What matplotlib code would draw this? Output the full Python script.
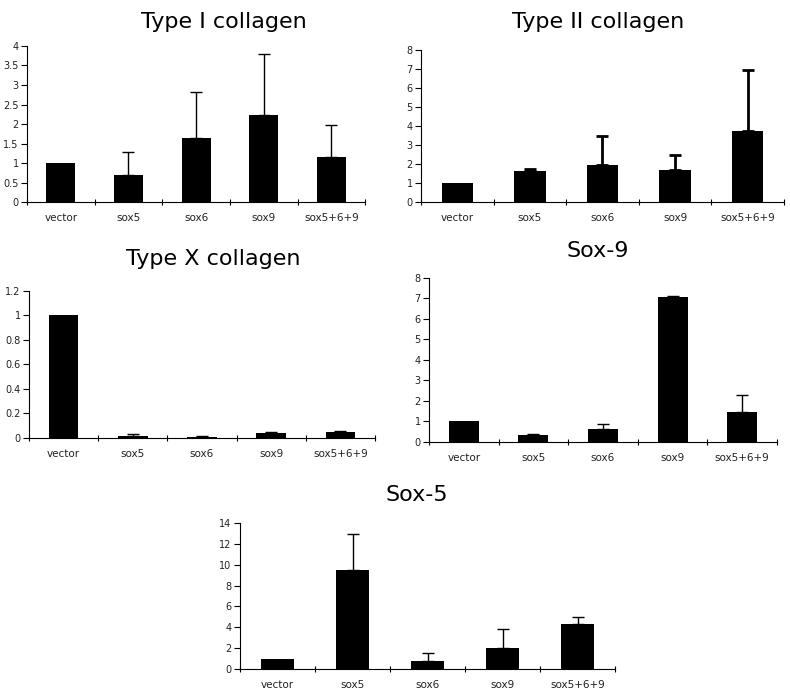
### Relative expression bar charts, 5 panels ###

## Import libs ##

import numpy as np
from matplotlib import pyplot as plt

### Data ###

categories = ["vector", "sox5", "sox6", "sox9", "sox5+6+9"]

# mean values and top of error bar (upper error only) #
col1_mean = [1.0, 0.70, 1.65, 2.23, 1.16]
col1_top = [1.0, 1.29, 2.81, 3.80, 1.97]

col2_mean = [1.0, 1.65, 1.96, 1.70, 3.75]
col2_top = [1.0, 1.72, 3.45, 2.49, 6.95]

col10_mean = [1.0, 0.019, 0.011, 0.043, 0.052]
col10_top = [1.0, 0.033, 0.019, 0.045, 0.060]

sox9_mean = [1.0, 0.33, 0.62, 7.06, 1.45]
sox9_top = [1.0, 0.37, 0.86, 7.10, 2.31]

sox5_mean = [1.0, 9.49, 0.80, 2.04, 4.33]
sox5_top = [1.0, 12.9, 1.53, 3.82, 5.0]

col1_ticks = [0, 0.5, 1, 1.5, 2, 2.5, 3, 3.5, 4]
col2_ticks = [0, 1, 2, 3, 4, 5, 6, 7, 8]
col10_ticks = [0, 0.2, 0.4, 0.6, 0.8, 1, 1.2]
sox9_ticks = [0, 1, 2, 3, 4, 5, 6, 7, 8]
sox5_ticks = [0, 2, 4, 6, 8, 10, 12, 14]

### Figure ###

fig = plt.figure(figsize=(7.9, 7.0), dpi=100)
fig.patch.set_facecolor("white")

# title, means, tops, ticks, [left, bottom, width, height], title x, title y, error line width #
panels = [
    ("Type I collagen", col1_mean, col1_top, col1_ticks, [0.0342, 0.7114, 0.4280, 0.2229], 0.283, 0.969, 1.0),
    ("Type II collagen", col2_mean, col2_top, col2_ticks, [0.5329, 0.7114, 0.4595, 0.2171], 0.757, 0.969, 2.0),
    ("Type X collagen", col10_mean, col10_top, col10_ticks, [0.0367, 0.3743, 0.4380, 0.2100], 0.270, 0.630, 1.0),
    ("Sox-9", sox9_mean, sox9_top, sox9_ticks, [0.5430, 0.3686, 0.4405, 0.2343], 0.757, 0.641, 1.0),
    ("Sox-5", sox5_mean, sox5_top, sox5_ticks, [0.3038, 0.0443, 0.4747, 0.2086], 0.528, 0.293, 1.0),
]

for title, mean, top, ticks, rect, tx, ty, elw in panels:
    ax = fig.add_axes(rect)
    x = np.arange(len(categories))
    ax.bar(x, mean, width=0.43, color="black", zorder=2)

    # upper error bars only, none where there is no spread (vector) #
    keep = [i for i in range(len(mean)) if top[i] > mean[i]]
    ex = [x[i] for i in keep]
    ey = [mean[i] for i in keep]
    up = [top[i] - mean[i] for i in keep]
    ax.errorbar(ex, ey, yerr=[[0] * len(keep), up], fmt="none", ecolor="black",
                elinewidth=elw, capsize=4, capthick=elw, zorder=1)

    ax.set_xlim(-0.5, len(categories) - 0.5)
    ax.set_ylim(ticks[0], ticks[-1])
    ax.set_yticks(ticks)
    ax.set_yticklabels(["%g" % t for t in ticks], fontsize=7, color="#222222")

    # category labels centred, ticks on the boundaries #
    ax.set_xticks(np.arange(len(categories) + 1) - 0.5)
    ax.set_xticklabels([])
    ax.set_xticks(x, minor=True)
    ax.set_xticklabels(categories, minor=True, fontsize=7.5, color="#222222")
    ax.tick_params(axis="x", which="minor", length=0, pad=8)
    ax.tick_params(axis="x", which="major", direction="inout", length=5, width=0.8)
    ax.tick_params(axis="y", direction="out", length=4, width=0.8, pad=2)

    for side in ["top", "right"]:
        ax.spines[side].set_visible(False)
    ax.spines["left"].set_linewidth(0.8)
    ax.spines["bottom"].set_linewidth(0.8)

    fig.text(tx, ty, title, fontsize=16, ha="center", va="center", color="black")

plt.savefig("out.png", dpi=100, facecolor="white")
plt.close()
